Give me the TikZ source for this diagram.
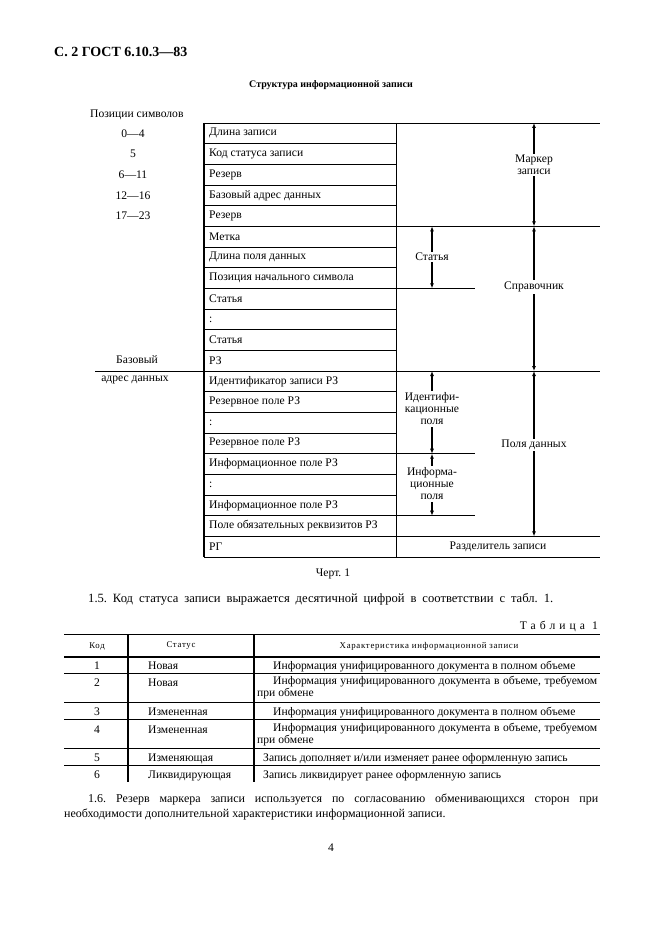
\documentclass[tikz,border=0pt]{standalone}
\usepackage{fontspec}
\setmainfont{Liberation Serif}
\newfontfamily\spacedfont[LetterSpace=35]{Liberation Serif}
\newfontfamily\smallspaced[LetterSpace=8]{Liberation Serif}
\usetikzlibrary{arrows.meta}
\tikzset{
    cell-text/.style = {anchor=west, inner sep=0pt, font=\fontsize{11.6}{13}\selectfont},
    side-label/.style = {inner sep=0pt, font=\fontsize{11.6}{13}\selectfont},
    span-label/.style = {fill=white, inner sep=1.5pt, align=center, font=\fontsize{11.6}{12}\selectfont},
    span-arrow/.style = {line width=1.6pt, {Latex[length=5pt,width=4pt]}-{Latex[length=5pt,width=4pt]}},
    grid-line/.style = {line width=0.8pt},
    bold-line/.style = {line width=1.5pt},
    tab-head/.style = {inner sep=0pt, font=\smallspaced\fontsize{8.8}{10}\selectfont},
    tab-text/.style = {inner sep=0pt, align=left, font=\fontsize{11.6}{12}\selectfont},
    body-text/.style = {inner sep=0pt, font=\fontsize{12}{15}\selectfont},
}
\frenchspacing

\begin{document}
\begin{tikzpicture}[x=1pt,y=-1pt]
\fill[white] (0,0) rectangle (661,936);

% page head and title
\node[anchor=base west, inner sep=0pt, font=\bfseries\fontsize{14}{16}\selectfont] (page-head) at (54,57) {С. 2 ГОСТ 6.10.3—83};
\node[inner sep=0pt, font=\bfseries\fontsize{10}{12}\selectfont] (title) at (331,85) {Структура информационной записи};

% row boundaries and columns
\foreach \i in {0,...,21}
    \coordinate (b\i) at (0,{123+\i*20.67});
\coordinate (colL) at (204,0);
\coordinate (colM) at (396,0);
\coordinate (colR) at (600,0);
\coordinate (stub) at (475,0);
\coordinate (baseX) at (95,0);
\coordinate (arrA) at (432,0);
\coordinate (arrB) at (534,0);

% record cells
\foreach \txt [count=\i] in {Длина записи, Код статуса записи, Резерв, Базовый адрес данных, Резерв, Метка, Длина поля данных, Позиция начального символа, Статья, :, Статья, РЗ, Идентификатор записи РЗ, Резервное поле РЗ, :, Резервное поле РЗ, Информационное поле РЗ, :, Информационное поле РЗ, Поле обязательных реквизитов РЗ, РГ}
    \node[cell-text] (cell\i) at (209,{123+(\i-0.5)*20.67}) {\txt};

\foreach \i in {1,...,20}
    \draw[grid-line] (b\i -| colL) -- (b\i -| colM);
\draw[grid-line] (b0 -| colL) -- (b0 -| colR);
\draw[bold-line] (b5 -| colL) -- (b5 -| colR);
\draw[grid-line] (b12 -| baseX) -- (b12 -| colR);
\draw[bold-line] (b20 -| colL) -- (b20 -| colR);
\draw[grid-line] (b21 -| colL) -- (b21 -| colR);
\foreach \i in {8,16,19}
    \draw[grid-line] (b\i -| colM) -- (b\i -| stub);
\draw[bold-line] (b0 -| colL) -- (b21 -| colL);
\draw[grid-line] (b0 -| colM) -- (b21 -| colM);

% symbol positions
\node[side-label, anchor=west] (pos-head) at (90,115) {Позиции символов};
\foreach \pos [count=\i] in {0—4, 5, 6—11, 12—16, 17—23}
    \node[side-label] (pos\i) at (133,{123+(\i-0.5)*20.67}) {\pos};
\node[side-label] (base-top) at (137,360) {Базовый};
\node[side-label] (base-bot) at (135,380) {адрес данных};

% spans
\draw[span-arrow] (b0 -| arrB) -- (b5 -| arrB);
\draw[span-arrow] (b5 -| arrB) -- (b12 -| arrB);
\draw[span-arrow] (b12 -| arrB) -- (b20 -| arrB);
\draw[span-arrow] (b5 -| arrA) -- (b8 -| arrA);
\draw[span-arrow] (b12 -| arrA) -- (b16 -| arrA);
\draw[span-arrow] (b16 -| arrA) -- (b19 -| arrA);
\node[span-label] (lbl-marker) at (534,165) {Маркер\\записи};
\node[span-label] (lbl-dir) at (534,287) {Справочник};
\node[span-label] (lbl-entry) at (432,257) {Статья};
\node[span-label] (lbl-data) at (534,445) {Поля данных};
\node[span-label] (lbl-ident) at (432,409) {Идентифи-\\кационные\\поля};
\node[span-label] (lbl-info) at (432,484) {Информа-\\ционные\\поля};
\node[side-label] (lbl-sep) at (498,547) {Разделитель записи};

\node[side-label] (caption) at (333,574) {Черт. 1};
\node[body-text, anchor=west, font=\fontsize{12.6}{15}\selectfont] (par-15) at (88,599) {\hbox to 465pt{1.5.\ Код статуса записи выражается десятичной цифрой в соответствии с табл.~1.}};
\node[side-label, anchor=east, font=\spacedfont\fontsize{11.6}{13}\selectfont] (tab-name) at (598,626) {Таблица 1};

% status table
\foreach \y in {634,673,702,719,748,765}
    \draw[grid-line] (64,\y) -- (600,\y);
\draw[bold-line] (64,657) -- (600,657);
\draw[bold-line] (128,634) -- (128,782);
\draw[bold-line] (254,634) -- (254,782);
\node[tab-head] (h-code) at (97,646) {Код};
\node[tab-head] (h-status) at (181,646) {Статус};
\node[tab-head] (h-char) at (429,646) {Характеристика информационной записи};
\foreach \code/\ypos/\status/\ind/\txt in {
    1/669/Новая/16/{Информация унифицированного документа в полном объеме},
    3/715/Измененная/16/{Информация унифицированного документа в полном объеме},
    5/761/Изменяющая/6/{Запись дополняет и/или изменяет ранее оформленную запись},
    6/778/Ликвидирующая/6/{Запись ликвидирует ранее оформленную запись}}
{
    \node[tab-text, anchor=base] (code\code) at (97,\ypos) {\code};
    \node[tab-text, anchor=base west] (status\code) at (148,\ypos) {\status};
    \node[tab-text, anchor=base west] (char\code) at (257,\ypos) {\hspace*{\ind pt}\txt};
}
\foreach \code/\ypos/\status in {2/686/Новая, 4/733/Измененная}
{
    \node[tab-text, anchor=base] (code\code) at (97,\ypos) {\code};
    \node[tab-text, anchor=base west] (status\code) at (148,\ypos) {\status};
    \node[tab-text, anchor=west] (char\code) at (257,{\ypos+2}) {\hbox to 340pt{\hspace*{16pt}Информация унифицированного документа в объеме, требуемом}\\при обмене};
}

\node[body-text, anchor=north west, text width=534pt, align=justify] (par-16) at (64,794)
    {\hspace*{24pt}1.6. Резерв маркера записи используется по согласованию обменивающихся сторон при\linebreak необходимости дополнительной характеристики информационной записи.};
\node[side-label] (page-num) at (331,848) {4};
\end{tikzpicture}
\end{document}
